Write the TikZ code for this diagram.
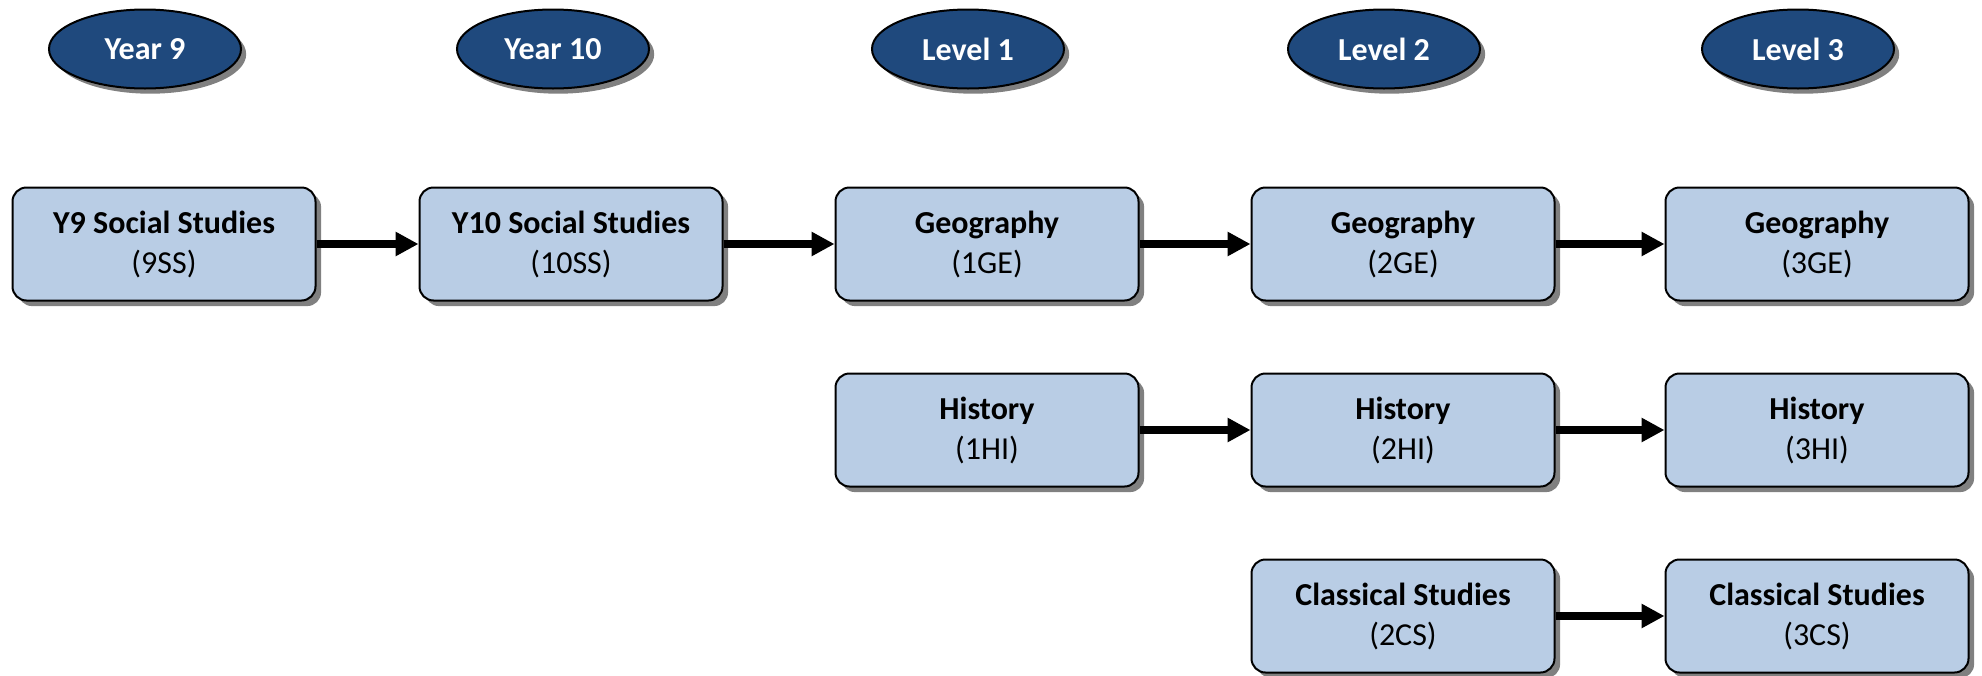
\documentclass[tikz,border=0pt]{standalone}
\usepackage{fontspec}
\setmainfont{Carlito}
\usepackage{xcolor}
\usetikzlibrary{shapes.geometric,shadows,arrows.meta}

\definecolor{yearblue}{HTML}{1F497D}
\definecolor{boxblue}{HTML}{B9CDE5}

\begin{document}
\begin{tikzpicture}[x=0.5pt,y=-0.5pt,
    yearhead/.style={ellipse,draw=black,line width=1pt,fill=yearblue,text=white,
      minimum width=96pt,minimum height=39.5pt,inner sep=0pt,
      font=\fontsize{16}{18}\selectfont\bfseries,
      drop shadow={shadow xshift=2.6pt,shadow yshift=-2.6pt,fill=black!50,opacity=1}},
    course/.style={rectangle,rounded corners=7pt,draw=black,line width=1pt,fill=boxblue,
      minimum width=151.5pt,minimum height=56.5pt,inner sep=0pt,align=center,
      font=\fontsize{16}{20}\selectfont,
      drop shadow={shadow xshift=2.8pt,shadow yshift=-2.8pt,fill=black!50,opacity=1}},
    pathway/.style={line width=4pt,-{Triangle[length=11.5pt,width=11.5pt]}}]
          \useasboundingbox (0,0) rectangle (1982,675);

          % column headings
          \node[yearhead] (y9) at (145,49) {Year 9};
          \node[yearhead] (y10) at (553,49) {Year 10};
          \node[yearhead] (l1) at (968,49) {Level 1};
          \node[yearhead] (l2) at (1384,49) {Level 2};
          \node[yearhead] (l3) at (1798,49) {Level 3};

          % courses
          \node[course] (ss9) at (164,244) {\textbf{Y9 Social Studies}\\(9SS)};
          \node[course] (ss10) at (571,244) {\textbf{Y10 Social Studies}\\(10SS)};
          \node[course] (ge1) at (987,244) {\textbf{Geography}\\(1GE)};
          \node[course] (ge2) at (1403,244) {\textbf{Geography}\\(2GE)};
          \node[course] (ge3) at (1817,244) {\textbf{Geography}\\(3GE)};

          \node[course] (hi1) at (987,430) {\textbf{History}\\(1HI)};
          \node[course] (hi2) at (1403,430) {\textbf{History}\\(2HI)};
          \node[course] (hi3) at (1817,430) {\textbf{History}\\(3HI)};

          \node[course] (cs2) at (1403,616) {\textbf{Classical Studies}\\(2CS)};
          \node[course] (cs3) at (1817,616) {\textbf{Classical Studies}\\(3CS)};

          % pathways
          \draw[pathway] (ss9) -- (ss10);
          \draw[pathway] (ss10) -- (ge1);
          \draw[pathway] (ge1) -- (ge2);
          \draw[pathway] (ge2) -- (ge3);
          \draw[pathway] (hi1) -- (hi2);
          \draw[pathway] (hi2) -- (hi3);
          \draw[pathway] (cs2) -- (cs3);
\end{tikzpicture}
\end{document}
